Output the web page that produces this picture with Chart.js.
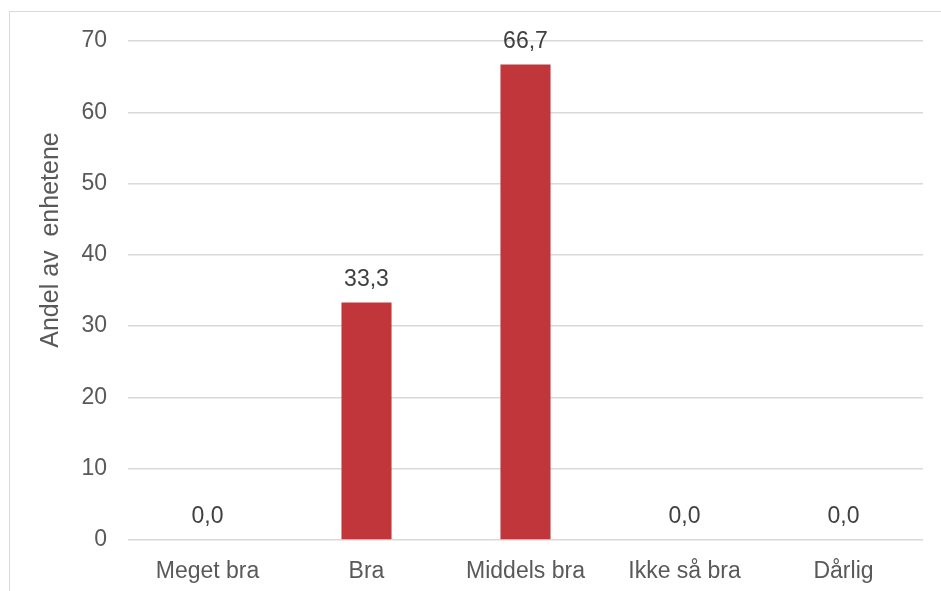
<!DOCTYPE html>
<html>
<head>
<meta charset="utf-8">
<script src="https://cdn.jsdelivr.net/npm/chart.js@4.4.0/dist/chart.umd.min.js"></script>
<style>
    html, body { margin: 0; padding: 0; background: #fff; }
    #wrap { position: relative; width: 941px; height: 591px; overflow: hidden; }
    #frame { position: absolute; left: 9px; top: 11px; width: 960px; height: 620px; border: 1px solid #d9d9d9; box-sizing: border-box; }
    #andelChart { position: absolute; left: 0; top: 0; }
</style>
</head>
<body>
<div id="wrap">
    <div id="frame"></div>
    <canvas id="andelChart" width="941" height="591"></canvas>
</div>
<script>
    let categories = ['Meget bra', 'Bra', 'Middels bra', 'Ikke så bra', 'Dårlig'];
    let andelValues = [0.0, 33.3, 66.7, 0.0, 0.0];
    let yTicks = [0, 10, 20, 30, 40, 50, 60, 70];
    let yTitle = 'Andel av  enhetene';

    let fontFamily = '"Liberation Sans", Arial, sans-serif';

    /* value labels above each bar, comma as decimal mark */
    let valueLabels = {
        id: 'valueLabels',
        afterDatasetsDraw: function (chart) {
            let ctx = chart.ctx;
            let meta = chart.getDatasetMeta(0);
            ctx.save();
            ctx.font = '23px ' + fontFamily;
            ctx.fillStyle = '#404040';
            ctx.textAlign = 'center';
            ctx.textBaseline = 'alphabetic';
            meta.data.forEach(function (bar, i) {
                let txt = andelValues[i].toFixed(1).replace('.', ',');
                ctx.fillText(txt, bar.x, bar.y - 17);
            });
            ctx.restore();
        }
    };

    /* y axis title, drawn by hand so it can sit a bit above the middle */
    let yAxisTitle = {
        id: 'yAxisTitle',
        afterDraw: function (chart) {
            let ctx = chart.ctx;
            ctx.save();
            ctx.translate(58, 240);
            ctx.rotate(-Math.PI / 2);
            ctx.font = '25px ' + fontFamily;
            ctx.fillStyle = '#595959';
            ctx.textAlign = 'center';
            ctx.textBaseline = 'alphabetic';
            ctx.fillText(yTitle, 0, 0);
            ctx.restore();
        }
    };

    new Chart(document.getElementById('andelChart'), {
        type: 'bar',
        data: {
            labels: categories,
            datasets: [{
                label: '',
                data: andelValues,
                backgroundColor: '#c0363a',
                borderWidth: 0,
                barPercentage: 0.315,
                categoryPercentage: 1.0
            }]
        },
        options: {
            responsive: false,
            animation: false,
            layout: {
                padding: { left: 0, right: 18, top: 41, bottom: 0 }
            },
            plugins: {
                legend: { display: false },
                tooltip: { enabled: false }
            },
            scales: {
                x: {
                    grid: { display: false, drawTicks: false },
                    border: { display: false },
                    ticks: {
                        color: '#595959',
                        font: { family: fontFamily, size: 23 },
                        padding: 18,
                        maxRotation: 0
                    },
                    afterFit: function (axis) {
                        axis.height = 51;
                    }
                },
                y: {
                    min: 0,
                    max: 70,
                    afterBuildTicks: function (axis) {
                        axis.ticks = yTicks.map(function (v) { return { value: v }; });
                    },
                    grid: { color: '#d9d9d9', lineWidth: 1.5, drawTicks: false },
                    border: { display: false },
                    ticks: {
                        color: '#595959',
                        font: { family: fontFamily, size: 23 },
                        padding: 21
                    },
                    afterFit: function (axis) {
                        axis.width = 128;
                    }
                }
            }
        },
        plugins: [valueLabels, yAxisTitle]
    });
</script>
</body>
</html>
